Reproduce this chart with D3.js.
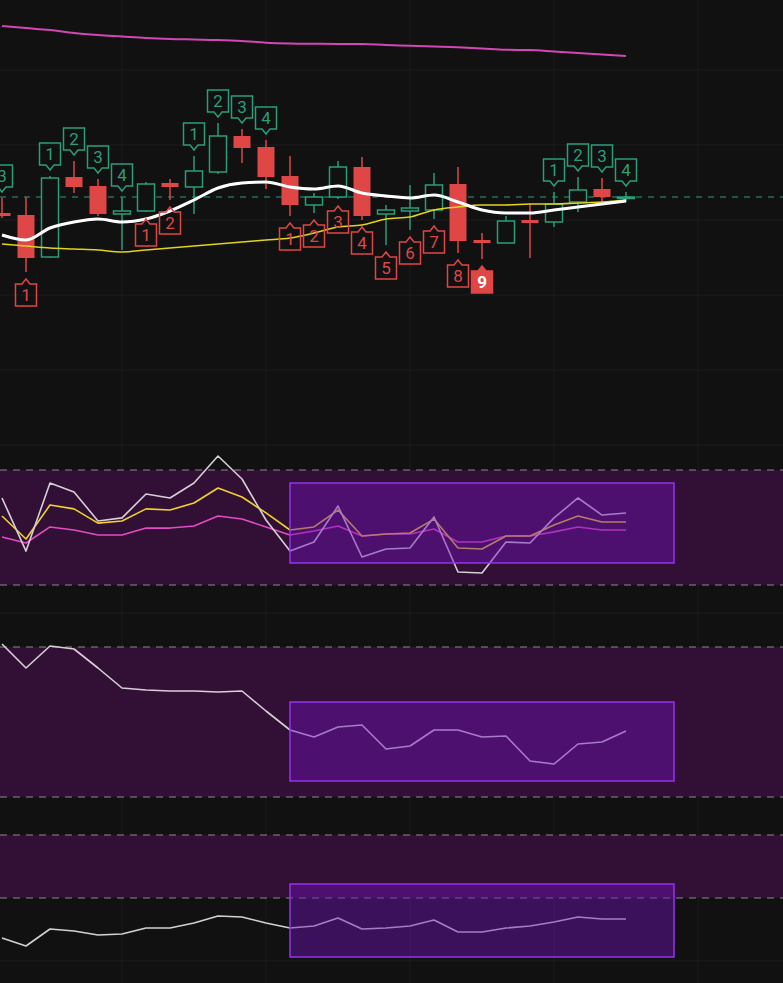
<!DOCTYPE html>
<html>
<head>
<meta charset="utf-8">
<script src="https://cdn.jsdelivr.net/npm/d3@7/dist/d3.min.js"></script>
<style>
  html, body { margin: 0; padding: 0; background: #111111; }
  svg { display: block; }
</style>
</head>
<body>
<div id="chart"></div>
<script>
// candle data (index 0..26)
const opens  = [71.4, 71.2, 67.0, 75.0, 74.1, 71.3, 71.6, 74.4, 74.0, 75.5, 79.1, 78.0, 75.1, 72.2, 73.0, 76.0, 71.3, 71.6, 71.7, 74.3, 68.7, 68.4, 70.7, 70.5, 72.5, 73.8, 72.9];
const highs  = [72.9, 73.0, 75.1, 76.6, 74.8, 73.0, 74.5, 74.8, 77.1, 80.4, 79.8, 78.7, 77.1, 73.4, 76.6, 77.0, 72.2, 74.2, 75.4, 76.0, 69.4, 71.1, 72.3, 73.5, 75.0, 74.9, 73.5];
const lows   = [70.9, 65.5, 66.9, 73.4, 71.1, 67.7, 71.5, 72.7, 71.3, 75.3, 76.4, 73.8, 71.1, 71.4, 72.8, 70.7, 68.2, 69.7, 70.8, 67.4, 66.8, 68.4, 66.9, 70.0, 71.5, 72.5, 72.5];
const closes = [71.1, 66.9, 74.9, 74.0, 71.3, 71.6, 74.3, 74.0, 75.6, 79.1, 77.9, 75.0, 72.2, 73.0, 76.0, 71.1, 71.7, 71.9, 74.2, 68.6, 68.4, 70.6, 70.4, 72.3, 73.7, 73.0, 73.0];

// moving averages on the price chart
const maFast = [69.2, 68.7, 69.9, 70.5, 70.8, 70.5, 70.8, 71.6, 72.7, 73.9, 74.4, 74.5, 74.0, 73.8, 74.1, 73.4, 73.1, 72.9, 73.2, 72.5, 71.7, 71.4, 71.4, 71.7, 72.0, 72.3, 72.6];
const maSlow = [68.3, 68.1, 67.9, 67.8, 67.7, 67.5, 67.7, 67.9, 68.1, 68.3, 68.5, 68.7, 68.9, 69.4, 70.0, 70.2, 70.8, 71.0, 71.7, 72.0, 72.2, 72.2, 72.3, 72.3, 72.4, 72.5, 72.7];
const maLong = [90.1, 89.9, 89.7, 89.4, 89.2, 89.05, 88.9, 88.8, 88.75, 88.7, 88.6, 88.43, 88.35, 88.32, 88.3, 88.3, 88.2, 88.13, 88.05, 87.97, 87.85, 87.72, 87.7, 87.55, 87.4, 87.25, 87.1];
const lastPrice = 73.0;

// sequence counts: [index, count]
const upCounts   = [[0, 3], [2, 1], [3, 2], [4, 3], [5, 4], [8, 1], [9, 2], [10, 3], [11, 4], [23, 1], [24, 2], [25, 3], [26, 4]];
const downCounts = [[1, 1], [6, 1], [7, 2], [12, 1], [13, 2], [14, 3], [15, 4], [16, 5], [17, 6], [18, 7], [19, 8], [20, 9]];

// oscillator panes
const kdjJ = [65.4, 37.7, 73.2, 68.5, 53.4, 55.0, 67.5, 65.4, 73.2, 87.3, 75.3, 53.9, 37.7, 42.4, 61.2, 34.6, 38.8, 39.3, 55.5, 26.8, 26.3, 42.4, 41.9, 55.0, 65.4, 56.5, 57.6];
const kdjK = [56.0, 44.0, 61.7, 59.7, 52.3, 53.4, 59.7, 59.1, 62.8, 70.6, 65.9, 57.6, 48.7, 50.3, 59.1, 45.6, 46.6, 47.1, 54.4, 39.3, 38.8, 45.6, 45.6, 51.3, 56.0, 52.9, 52.9];
const kdjD = [45.0, 41.9, 50.3, 48.7, 46.1, 46.1, 49.7, 49.7, 50.8, 56.0, 54.4, 50.3, 46.1, 48.2, 50.8, 45.6, 46.6, 46.6, 49.2, 42.4, 42.4, 45.6, 45.6, 47.7, 50.3, 48.7, 48.7];
const osc2 = [81.2, 71.6, 80.4, 79.2, 71.6, 63.6, 62.8, 62.4, 62.4, 62.0, 62.4, 54.4, 46.8, 44.0, 48.0, 48.8, 39.2, 40.4, 46.8, 46.8, 44.0, 44.4, 34.4, 33.2, 41.2, 42.0, 46.4];
const osc3 = [-18.1, -25.7, -9.5, -11.4, -15.2, -14.3, -8.6, -8.6, -3.8, 2.9, 1.9, -3.8, -8.6, -6.7, 1.0, -9.5, -8.6, -6.7, -1.0, -12.4, -12.4, -8.6, -6.7, -2.9, 1.9, 0.0, 0.0];
const levels = [80, 20];

// highlighted zone: index range and value range per pane
const zoneIdx = [12, 28];
const zone1 = [73.2, 31.5];
const zone2 = [58.0, 26.4];
const zone3 = [33.3, -36.2];

// grid
const gridIdx = [5, 11, 17, 23, 29];
const gridPrice = [85.7, 78.2, 70.7, 63.2, 55.7, 48.2];
const grid1 = [63.8, 34.6, 5.4];
const grid2 = [60, 40];
const grid3 = [-40];

const W = 783, H = 983;
const GREEN = "#2a9d7a", RED = "#df4646", BG = "#111111";

const svg = d3.select("#chart").append("svg").attr("width", W).attr("height", H);
svg.append("rect").attr("width", W).attr("height", H).attr("fill", BG);

const x = d3.scaleLinear().domain([0, 32]).range([2, 770]);
const yP = d3.scaleLinear().domain([50, 92.7]).range([427, 0]);
const y1 = d3.scaleLinear().domain([20, 80]).range([585, 470]);
const y2 = d3.scaleLinear().domain([20, 80]).range([797, 647]);
const y3 = d3.scaleLinear().domain([20, 80]).range([898, 835]);

// grid lines
const grid = svg.append("g").attr("stroke", "#1d1d1d").attr("stroke-width", 1);
gridIdx.forEach(i => grid.append("line").attr("x1", x(i)).attr("x2", x(i)).attr("y1", 0).attr("y2", H));
gridPrice.forEach(p => grid.append("line").attr("x1", 0).attr("x2", W).attr("y1", yP(p)).attr("y2", yP(p)));
grid1.forEach(v => grid.append("line").attr("x1", 0).attr("x2", W).attr("y1", y1(v)).attr("y2", y1(v)));
grid2.forEach(v => grid.append("line").attr("x1", 0).attr("x2", W).attr("y1", y2(v)).attr("y2", y2(v)));
grid3.forEach(v => grid.append("line").attr("x1", 0).attr("x2", W).attr("y1", y3(v)).attr("y2", y3(v)));

// ---- price pane ----
const main = svg.append("g");

main.append("line")
  .attr("x1", 0).attr("x2", W)
  .attr("y1", yP(lastPrice)).attr("y2", yP(lastPrice))
  .attr("stroke", GREEN).attr("stroke-width", 1.2).attr("stroke-dasharray", "6,6");

const candles = d3.range(opens.length).map(i => ({
  i, o: opens[i], h: highs[i], l: lows[i], c: closes[i], up: closes[i] >= opens[i]
}));

const cg = main.selectAll("g.candle").data(candles).enter().append("g");
cg.append("line")
  .attr("x1", d => x(d.i)).attr("x2", d => x(d.i))
  .attr("y1", d => yP(d.h)).attr("y2", d => yP(d.l))
  .attr("stroke", d => d.up ? GREEN : RED).attr("stroke-width", 1.5);
cg.append("rect")
  .attr("x", d => x(d.i) - 8.5).attr("width", 17)
  .attr("y", d => yP(Math.max(d.o, d.c)))
  .attr("height", d => Math.max(1.5, Math.abs(yP(d.o) - yP(d.c))))
  .attr("fill", d => d.up ? BG : RED)
  .attr("stroke", d => d.up ? GREEN : RED)
  .attr("stroke-width", d => d.up ? 1.5 : 0);

const line = (arr, ys, curve) => d3.line()
  .x((d, i) => x(i)).y(d => ys(d)).curve(curve || d3.curveLinear)(arr);

main.append("path").attr("d", line(maLong, yP, d3.curveMonotoneX))
  .attr("fill", "none").attr("stroke", "#d347b4").attr("stroke-width", 2);
main.append("path").attr("d", line(maSlow, yP, d3.curveMonotoneX))
  .attr("fill", "none").attr("stroke", "#e3d21e").attr("stroke-width", 1.6);
main.append("path").attr("d", line(maFast, yP, d3.curveMonotoneX))
  .attr("fill", "none").attr("stroke", "#ffffff").attr("stroke-width", 3).attr("stroke-linejoin", "round");

// count labels
function addLabel(i, n, above, filled) {
  const col = above ? GREEN : RED;
  const tip = above ? yP(highs[i]) - 6 : yP(lows[i]) + 7;
  const s = above ? -1 : 1;
  const g = main.append("g").attr("transform", `translate(${x(i)},${tip})`);
  g.append("path")
    .attr("d", `M-10.5,${s * 27} H10.5 V${s * 5} H4 L0,0 L-4,${s * 5} H-10.5 Z`)
    .attr("fill", filled ? col : "none")
    .attr("stroke", col).attr("stroke-width", 1.5);
  g.append("text")
    .attr("x", 0).attr("y", s * 16)
    .attr("text-anchor", "middle").attr("dominant-baseline", "central")
    .attr("font-family", "Roboto, sans-serif").attr("font-size", 17)
    .attr("font-weight", filled ? 700 : 400)
    .attr("fill", filled ? "#ffffff" : col)
    .text(n);
}
upCounts.forEach(([i, n]) => addLabel(i, n, true, false));
downCounts.forEach(([i, n]) => addLabel(i, n, false, n === 9));

// ---- oscillator panes ----
function pane(ys, series, zone) {
  const g = svg.append("g");
  g.append("rect")
    .attr("x", 0).attr("width", W)
    .attr("y", ys(levels[0])).attr("height", ys(levels[1]) - ys(levels[0]))
    .attr("fill", "#320f34");
  levels.forEach(v => g.append("line")
    .attr("x1", 0).attr("x2", W).attr("y1", ys(v)).attr("y2", ys(v))
    .attr("stroke", "#8a8a8a").attr("stroke-width", 1.2).attr("stroke-dasharray", "7,6"));
  series.forEach(([arr, col]) => g.append("path")
    .attr("d", line(arr, ys))
    .attr("fill", "none").attr("stroke", col).attr("stroke-width", 1.6).attr("stroke-linejoin", "round"));
  g.append("rect")
    .attr("x", x(zoneIdx[0])).attr("width", x(zoneIdx[1]) - x(zoneIdx[0]))
    .attr("y", ys(zone[0])).attr("height", ys(zone[1]) - ys(zone[0]))
    .attr("fill", "rgb(112,17,185)").attr("fill-opacity", 0.45)
    .attr("stroke", "#9632f0").attr("stroke-width", 1.5);
}
pane(y1, [[kdjD, "#e24cc4"], [kdjK, "#f0d22a"], [kdjJ, "#d6cfd8"]], zone1);
pane(y2, [[osc2, "#d6cfd8"]], zone2);
pane(y3, [[osc3, "#d6cfd8"]], zone3);
</script>
</body>
</html>
